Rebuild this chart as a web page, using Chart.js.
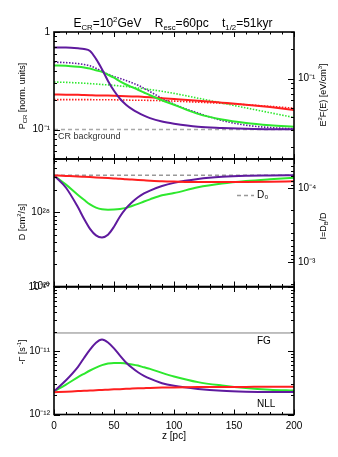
<!DOCTYPE html>
<html>
<head>
<meta charset="utf-8">
<script src="https://cdn.jsdelivr.net/npm/chart.js@4.4.0/dist/chart.umd.min.js"></script>
<style>
  html, body { margin: 0; padding: 0; background: #fff; }
  #wrap { position: relative; width: 338px; height: 457px; overflow: hidden;
          font-family: "Liberation Sans", Arial, Helvetica, sans-serif; color: #000; }
  canvas { position: absolute; left: 0; top: 0; }
  .lbl { position: absolute; white-space: pre; font-size: 9px; line-height: 1;
         transform: translate(-50%, -50%); }
  .rot { transform: translate(-50%, -50%) rotate(-90deg); }
  sub, sup { font-size: 65%; line-height: 0; }
</style>
</head>
<body>
<div id="wrap">
  <canvas id="c1" width="338" height="457"></canvas>
  <canvas id="c2" width="338" height="457"></canvas>
  <canvas id="c3" width="338" height="457"></canvas>
  <div class="lbl" style="left:173px;top:23px;font-size:12px">E<sub>CR</sub>=10<sup>2</sup>GeV    R<sub>esc</sub>=60pc    t<sub>1/2</sub>=51kyr</div>
  <div class="lbl rot" style="left:22px;top:96px">P<sub>CR</sub> [norm. units]</div>
  <div class="lbl rot" style="left:22px;top:222px">D [cm<sup>2</sup>/s]</div>
  <div class="lbl rot" style="left:22px;top:352px">-Γ [s<sup>-1</sup>]</div>
  <div class="lbl rot" style="left:323px;top:95px">E<sup>2</sup>F(E) [eV/cm<sup>3</sup>]</div>
  <div class="lbl rot" style="left:323px;top:226px">I=D<sub>B</sub>/D</div>
</div>
<script>
// z positions [pc] where the curves were read
const z = [0, 10, 20, 25, 30, 35, 40, 45, 50, 55, 60, 65, 70, 75, 80, 90, 100, 120, 140, 160, 180, 200];

// top panel: P_CR [norm. units]
const pPurple    = [0.695, 0.693, 0.68, 0.67, 0.64, 0.53, 0.415, 0.315, 0.25, 0.207, 0.18, 0.162, 0.149, 0.139, 0.131, 0.121, 0.115, 0.107, 0.104, 0.102, 0.101, 0.101];
const pGreen     = [0.455, 0.452, 0.44, 0.432, 0.422, 0.405, 0.39, 0.365, 0.34, 0.312, 0.29, 0.272, 0.256, 0.24, 0.225, 0.2, 0.18, 0.145, 0.127, 0.117, 0.111, 0.107];
const pRed       = [0.229, 0.228, 0.227, 0.226, 0.225, 0.224, 0.224, 0.223, 0.222, 0.221, 0.22, 0.219, 0.218, 0.216, 0.214, 0.21, 0.206, 0.198, 0.189, 0.18, 0.17, 0.159];
const pPurpleDot = [0.49, 0.486, 0.474, 0.465, 0.45, 0.425, 0.395, 0.37, 0.35, 0.335, 0.318, 0.302, 0.285, 0.265, 0.245, 0.21, 0.182, 0.148, 0.124, 0.111, 0.105, 0.102];
const pGreenDot  = [0.307, 0.305, 0.301, 0.299, 0.296, 0.293, 0.29, 0.287, 0.284, 0.28, 0.276, 0.272, 0.267, 0.262, 0.257, 0.247, 0.235, 0.21, 0.187, 0.167, 0.149, 0.133];
const pRedDot    = [0.203, 0.203, 0.203, 0.203, 0.203, 0.202, 0.202, 0.202, 0.202, 0.201, 0.201, 0.2, 0.2, 0.2, 0.199, 0.198, 0.196, 0.191, 0.186, 0.18, 0.173, 0.166];
const crBackground = 0.1;

// middle panel: D [1e28 cm^2/s]
const dPurple = [3.15, 2.15, 1.17, 0.82, 0.6, 0.49, 0.46, 0.5, 0.64, 0.88, 1.13, 1.37, 1.6, 1.8, 1.97, 2.27, 2.5, 2.82, 3.02, 3.12, 3.15, 3.17];
const dGreen  = [3.15, 2.37, 1.72, 1.48, 1.28, 1.16, 1.1, 1.085, 1.09, 1.11, 1.15, 1.22, 1.3, 1.4, 1.5, 1.7, 1.82, 2.18, 2.45, 2.65, 2.8, 2.93];
const dRed    = [3.15, 3.1, 3.05, 3.02, 2.99, 2.96, 2.93, 2.9, 2.87, 2.84, 2.8, 2.77, 2.74, 2.71, 2.68, 2.63, 2.6, 2.56, 2.56, 2.57, 2.59, 2.62];
const D0 = 3.17;
const D_UNIT = 1e28;

// bottom panel: -Gamma [1e-12 s^-1]
const gPurple = [2.32, 3.45, 5.6, 7.7, 10.4, 13.4, 15.0, 13.5, 10.9, 8.4, 6.55, 5.4, 4.6, 4.05, 3.65, 3.1, 2.82, 2.52, 2.35, 2.28, 2.26, 2.25];
const gGreen  = [2.32, 2.95, 3.85, 4.35, 4.9, 5.45, 5.95, 6.3, 6.45, 6.45, 6.3, 6.1, 5.85, 5.5, 5.2, 4.5, 3.95, 3.22, 2.85, 2.6, 2.45, 2.37];
const gRed    = [2.24, 2.28, 2.33, 2.35, 2.38, 2.4, 2.43, 2.45, 2.48, 2.5, 2.53, 2.55, 2.57, 2.59, 2.61, 2.64, 2.66, 2.69, 2.7, 2.71, 2.72, 2.72];
const FG = 19;
const G_UNIT = 1e-12;

// tick labels
const zTicks = [0, 50, 100, 150, 200];
const pTicks = [0.1, 1],       pTickText = ['10⁻¹', '1'];
const eTicks = [0.1],          eTickText = ['10⁻¹'];
const dTicks = [1e27, 1e28],   dTickText = ['10²⁷', '10²⁸'];
const iTicks = [1e-4, 1e-3],   iTickText = ['10⁻⁴', '10⁻³'];
const gTicks = [1e-12, 1e-11, 1e-10], gTickText = ['10⁻¹²', '10⁻¹¹', '10⁻¹⁰'];

const FONT = '"Liberation Sans", Arial, Helvetica, sans-serif';
const PURPLE = '#5f1a9e', GREEN = '#2ee82e', RED = '#ff1f1f', GREY = '#a8a8a8';

function line(ys, color, extra, unit) {
  unit = unit || 1;
  return Object.assign({
    data: z.map((x, i) => ({x: x, y: ys[i] * unit})),
    borderColor: color, borderWidth: 2, pointRadius: 0, fill: false,
    cubicInterpolationMode: 'monotone', yAxisID: 'y'
  }, extra || {});
}
function flat(v, color, extra) {
  return Object.assign({
    data: [{x: 0, y: v}, {x: 200, y: v}],
    borderColor: color, borderWidth: 1.5, pointRadius: 0, fill: false, yAxisID: 'y'
  }, extra || {});
}

function logAxis(pos, min, max, vals, texts, extra) {
  return Object.assign({
    type: 'logarithmic', position: pos, min: min, max: max,
    afterBuildTicks: s => { s.ticks = vals.map(v => ({value: v})); },
    afterFit: s => { s.width = pos === 'left' ? 54 : 44; },
    grid: { display: false, drawTicks: false },
    border: { display: false },
    ticks: { autoSkip: false, padding: 4, color: '#000', font: { size: 10, family: FONT },
             callback: (v, i) => texts[i] || '' }
  }, extra || {});
}
function xAxis(show) {
  return {
    type: 'linear', position: 'bottom', min: 0, max: 200, display: show,
    afterBuildTicks: s => { s.ticks = zTicks.map(v => ({value: v})); },
    afterFit: s => { s.height = show ? 32 : 0; },
    grid: { display: false, drawTicks: false },
    border: { display: false },
    ticks: { autoSkip: false, padding: 6, color: '#000', maxRotation: 0, font: { size: 10, family: FONT } },
    title: { display: true, text: 'z [pc]', color: '#000', font: { size: 10, family: FONT }, padding: { top: 0, bottom: 4 } }
  };
}

function logTicks(s) {
  const out = [];
  const lo = Math.floor(Math.log10(s.min)), hi = Math.ceil(Math.log10(s.max));
  for (let e = lo; e <= hi; e++) {
    for (let m = 1; m <= 9; m++) {
      const v = m * Math.pow(10, e);
      if (v >= s.min * 0.999 && v <= s.max * 1.001) out.push({v: v, major: m === 1});
    }
  }
  return out;
}

// inward ticks on all four sides plus the box
const frameTicks = {
  id: 'frameTicks',
  afterDatasetsDraw(chart) {
    const {ctx, chartArea: a, scales} = chart;
    ctx.save();
    ctx.strokeStyle = '#000';
    ctx.lineWidth = 1;
    ctx.beginPath();
    const x = scales.x;
    for (let v = 0; v <= 200; v += 10) {
      const px = Math.round(x.getPixelForValue(v)) + 0.5;
      const len = v % 50 === 0 ? 5 : 2.5;
      ctx.moveTo(px, a.bottom); ctx.lineTo(px, a.bottom - len);
      ctx.moveTo(px, a.top); ctx.lineTo(px, a.top + len);
    }
    const yl = scales.y, yr = scales.y2 || scales.y;
    logTicks(yl).forEach(t => {
      const py = Math.round(yl.getPixelForValue(t.v)) + 0.5;
      ctx.moveTo(a.left, py); ctx.lineTo(a.left + (t.major ? 6 : 3), py);
    });
    logTicks(yr).forEach(t => {
      const py = Math.round(yr.getPixelForValue(t.v)) + 0.5;
      ctx.moveTo(a.right, py); ctx.lineTo(a.right - (t.major ? 6 : 3), py);
    });
    ctx.stroke();
    ctx.lineWidth = 1.6;
    ctx.strokeRect(a.left, a.top, a.right - a.left, a.bottom - a.top);
    ctx.restore();
  }
};

const base = {
  animation: false, responsive: false, devicePixelRatio: 1, events: [],
  plugins: { legend: { display: false }, tooltip: { enabled: false } }
};

// top panel
new Chart(document.getElementById('c1'), {
  type: 'line',
  data: { datasets: [
    line(pPurple, PURPLE),
    line(pGreen, GREEN),
    line(pRed, RED),
    line(pPurpleDot, PURPLE, { borderWidth: 1.6, borderDash: [1.5, 1.5] }),
    line(pGreenDot, GREEN, { borderWidth: 1.6, borderDash: [1.5, 1.5] }),
    line(pRedDot, RED, { borderWidth: 1.6, borderDash: [1.5, 1.5] }),
    flat(crBackground, GREY, { borderDash: [4, 3] })
  ] },
  options: Object.assign({}, base, {
    layout: { padding: { top: 32, bottom: 457 - 159, left: 0, right: 0 } },
    scales: {
      x: xAxis(false),
      y: logAxis('left', 0.05, 1, pTicks, pTickText),
      y2: logAxis('right', 0.015, 0.3, eTicks, eTickText, {})
    }
  }),
  plugins: [frameTicks, {
    id: 'note1',
    afterDatasetsDraw(chart) {
      const {ctx, scales: {x, y}} = chart;
      ctx.save();
      ctx.font = '9px ' + FONT; ctx.fillStyle = '#333'; ctx.textBaseline = 'middle';
      ctx.fillText('CR background', x.getPixelForValue(3.3), y.getPixelForValue(crBackground) + 7);
      ctx.restore();
    }
  }]
});

// middle panel
new Chart(document.getElementById('c2'), {
  type: 'line',
  data: { datasets: [
    line(dRed, RED, {}, D_UNIT),
    line(dPurple, PURPLE, {}, D_UNIT),
    line(dGreen, GREEN, {}, D_UNIT),
    flat(D0 * D_UNIT, '#999', { borderDash: [4, 3] })
  ] },
  options: Object.assign({}, base, {
    layout: { padding: { top: 159, bottom: 457 - 286.5, left: 0, right: 0 } },
    scales: {
      x: xAxis(false),
      y: logAxis('left', 1e27, 5.25e28, dTicks, dTickText),
      y2: logAxis('right', 4.07e-5, 2.14e-3, iTicks, iTickText, { reverse: true })
    }
  }),
  plugins: [frameTicks, {
    id: 'note2',
    afterDatasetsDraw(chart) {
      const {ctx, chartArea: a} = chart;
      ctx.save();
      ctx.strokeStyle = '#999'; ctx.lineWidth = 1.5; ctx.setLineDash([4, 3]);
      ctx.beginPath(); ctx.moveTo(a.left + 183, a.top + 36.5); ctx.lineTo(a.left + 200, a.top + 36.5); ctx.stroke();
      ctx.setLineDash([]);
      ctx.font = '10px ' + FONT; ctx.fillStyle = '#000'; ctx.textBaseline = 'middle';
      ctx.fillText('D₀', a.left + 203, a.top + 36.5);
      ctx.restore();
    }
  }]
});

// bottom panel
new Chart(document.getElementById('c3'), {
  type: 'line',
  data: { datasets: [
    line(gRed, RED, {}, G_UNIT),
    line(gPurple, PURPLE, {}, G_UNIT),
    line(gGreen, GREEN, {}, G_UNIT),
    flat(FG * G_UNIT, '#808080', { borderWidth: 1 })
  ] },
  options: Object.assign({}, base, {
    layout: { padding: { top: 287, bottom: 457 - 414.5 - 32, left: 0, right: 0 } },
    scales: {
      x: xAxis(true),
      y: logAxis('left', 1e-12, 1e-10, gTicks, gTickText),
      y2: logAxis('right', 1e-12, 1e-10, [], [])
    }
  }),
  plugins: [frameTicks, {
    id: 'note3',
    afterDatasetsDraw(chart) {
      const {ctx, chartArea: a, scales: {y}} = chart;
      ctx.save();
      ctx.font = '10px ' + FONT; ctx.fillStyle = '#000'; ctx.textBaseline = 'middle';
      ctx.fillText('FG', a.left + 203, y.getPixelForValue(FG * G_UNIT) + 8);
      ctx.fillText('NLL', a.left + 203, a.bottom - 10);
      ctx.restore();
    }
  }]
});
</script>
</body>
</html>
